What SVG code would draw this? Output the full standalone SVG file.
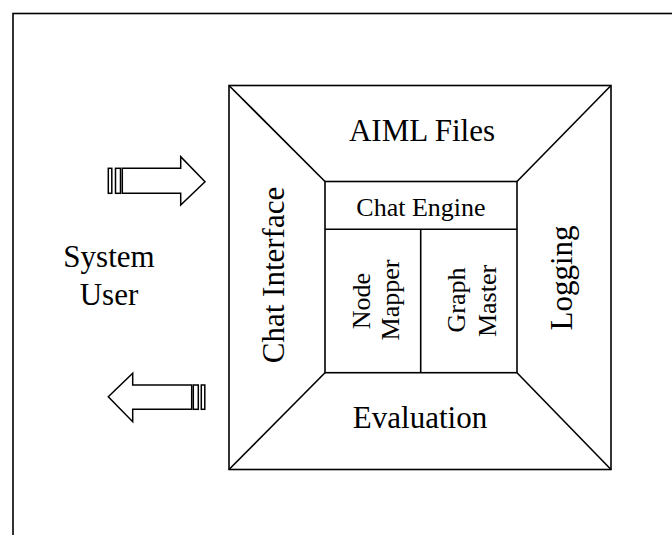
<svg xmlns="http://www.w3.org/2000/svg" width="672" height="535" viewBox="0 0 672 535">
<style>
.ln{fill:none;stroke:#000;stroke-width:1.6}
.sh{fill:#fff;stroke:#000;stroke-width:1.5;stroke-linejoin:miter}
text{font-family:'Liberation Serif','Times New Roman','DejaVu Serif',serif;fill:#000}
.big{font-size:31px}
.mid{font-size:26px}
</style>
<rect x="0" y="0" width="672" height="535" fill="#fff"/>
<rect id="frame" class="ln" x="13" y="13.5" width="700" height="600"/>
<g id="connectors">
<g id="arrow-in">
<path class="sh" d="M122.3,168.3 H180.7 V156.7 L205,181.7 L180.7,205 V193.3 H122.3 Z"/>
<rect class="sh" x="115.5" y="168.3" width="5" height="25"/>
<rect class="sh" x="108.3" y="168.3" width="3.5" height="25"/>
</g>
<g id="arrow-out">
<path class="sh" d="M191.7,385 H132.7 V373.3 L108.3,396.7 L132.7,421.7 V409.3 H191.7 Z"/>
<rect class="sh" x="193.3" y="385" width="5" height="24.3"/>
<rect class="sh" x="201.3" y="385" width="3.5" height="24.3"/>
</g>
</g>
<g id="system-user">
<text class="big" x="109" y="267" text-anchor="middle" font-family="Liberation Serif, serif">System</text>
<text class="big" x="109" y="305" text-anchor="middle" font-family="Liberation Serif, serif">User</text>
</g>
<g id="outer-box">
<rect class="ln" x="229" y="85.5" width="382" height="384" stroke-width="2"/>
<line class="ln" x1="229" y1="85.5" x2="325" y2="181.5"/>
<line class="ln" x1="611" y1="85.5" x2="517" y2="181.5"/>
<line class="ln" x1="229" y1="469.5" x2="325" y2="372.7"/>
<line class="ln" x1="611" y1="469.5" x2="517" y2="372.7"/>
</g>
<g id="aiml-files"><text class="big" x="422" y="141" text-anchor="middle">AIML Files</text></g>
<g id="evaluation"><text class="big" x="420" y="428" text-anchor="middle">Evaluation</text></g>
<g id="chat-interface"><text class="big" transform="translate(284,275) rotate(-90)" text-anchor="middle">Chat Interface</text></g>
<g id="logging"><text class="big" transform="translate(572,278) rotate(-90)" text-anchor="middle">Logging</text></g>
<g id="chat-engine">
<rect class="ln" x="325" y="181.5" width="192" height="191.2" stroke-width="2"/>
<line class="ln" x1="325" y1="229.3" x2="517" y2="229.3" stroke-width="2"/>
<text class="mid" x="421" y="215.5" text-anchor="middle">Chat Engine</text>
</g>
<g id="node-mapper">
<line class="ln" x1="420.7" y1="229.3" x2="420.7" y2="372.7" stroke-width="2"/>
<text class="mid" transform="translate(370,301) rotate(-90)" text-anchor="middle">Node</text>
<text class="mid" transform="translate(399,300) rotate(-90)" text-anchor="middle">Mapper</text>
</g>
<g id="graph-master">
<text class="mid" transform="translate(465,300) rotate(-90)" text-anchor="middle">Graph</text>
<text class="mid" transform="translate(496,301) rotate(-90)" text-anchor="middle">Master</text>
</g>
</svg>
